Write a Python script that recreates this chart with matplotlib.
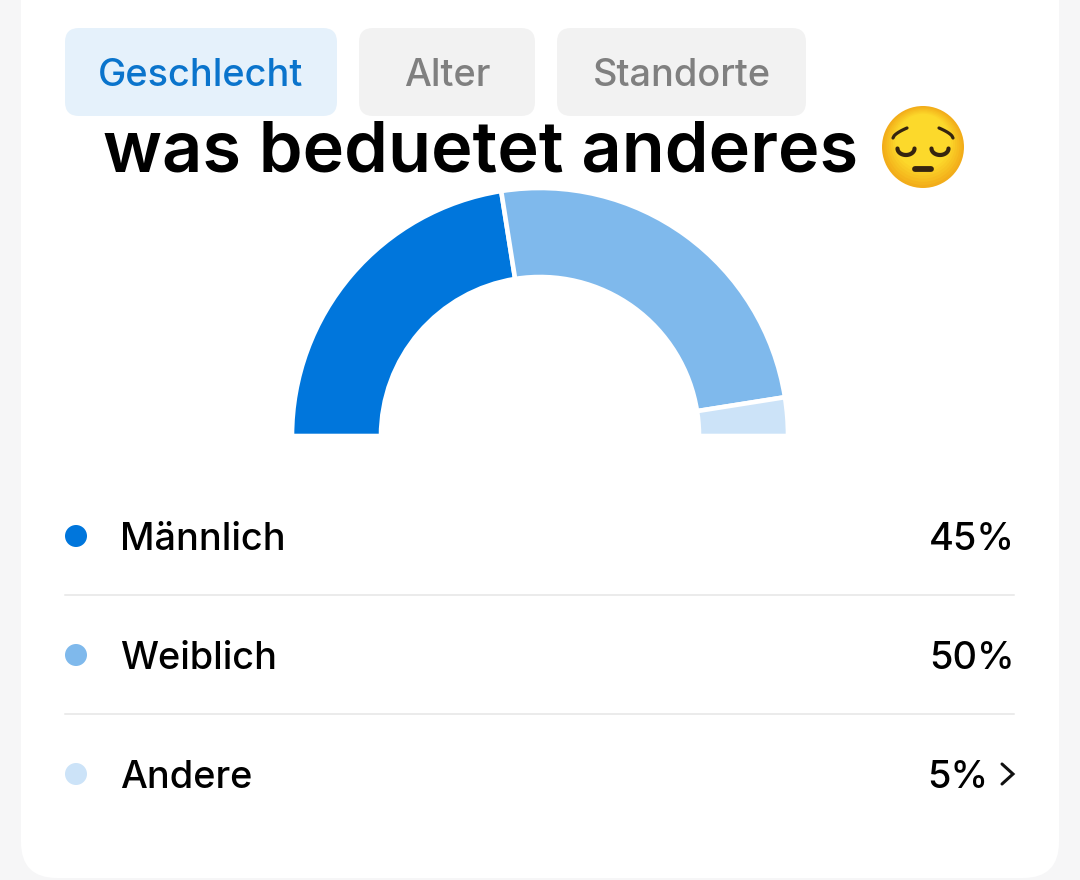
import matplotlib
matplotlib.use("Agg")
import matplotlib.pyplot as plt
from matplotlib.patches import FancyBboxPatch, Circle
import numpy as np

categories = ["Männlich", "Weiblich", "Andere"]
shares = [45, 50, 5]
colors = ["#0076DC", "#7FB9EC", "#CCE3F8"]
tabs = ["Geschlecht", "Alter", "Standorte"]
title = "was beduetet anderes"

W, H = 1080, 880
plt.rcParams["font.family"] = ["Inter", "Roboto", "DejaVu Sans"]
fig = plt.figure(figsize=(W / 100, H / 100), dpi=100, facecolor="#F6F6F7")
ax = fig.add_axes([0, 0, 1, 1])
ax.set_xlim(0, W)
ax.set_ylim(H, 0)
ax.axis("off")

# card
ax.add_patch(FancyBboxPatch((21 + 36, -100 + 36), 1038 - 72, 978 - 72,
                            boxstyle="round,pad=36,rounding_size=36",
                            fc="white", ec="none", zorder=1))

# tabs
tab_spans = [(65, 337), (359, 535), (557, 806)]
tab_fc = ["#E5F1FB", "#F2F2F2", "#F2F2F2"]
tab_tc = ["#0A74CC", "#808080", "#808080"]
for name, (a, b), fc, tc in zip(tabs, tab_spans, tab_fc, tab_tc):
    r = 14
    ax.add_patch(FancyBboxPatch((a + r, 28 + r), b - a - 2 * r, 88 - 2 * r,
                                boxstyle=f"round,pad={r},rounding_size={r}",
                                fc=fc, ec="none", zorder=2))
    ax.text((a + b) / 2, 72, name, color=tc, fontsize=27.3, fontweight="medium",
            ha="center", va="center_baseline", zorder=3)

# overlaid caption
ax.text(103, 172, title, color="black", fontsize=50.6, fontweight="semibold",
        ha="left", va="baseline", zorder=5)

# emoji drawn as shapes
ex, ey, er = 923, 147, 41
edge, core = np.array([0.95, 0.68, 0.10]), np.array([0.99, 0.85, 0.17])
for i, f in enumerate(np.linspace(0, 1, 12)):
    ax.add_patch(Circle((ex, ey - 10 * f), er - 24 * f,
                        fc=tuple(edge + (core - edge) * min(1, f * 1.8)),
                        ec="none", zorder=5))
feat = "#35240F"
t = np.linspace(0, np.pi, 30)
for s in (-1, 1):
    ax.plot(ex + s * 17 + 8.5 * np.cos(t), ey + 1.5 + 6.5 * np.sin(t), color=feat, lw=3.0,
            solid_capstyle="round", zorder=6)
    u = np.linspace(0, np.pi / 2, 20)
    ax.plot(ex + s * (30 - 14 * np.sin(u)), ey - 9 - 10 * np.sin(u) ** 0.6,
            color=feat, lw=2.3, solid_capstyle="round", zorder=6)
ax.plot([ex - 8, ex + 8], [ey + 22, ey + 22], color=feat, lw=4.2,
        solid_capstyle="round", zorder=6)

# half donut: the pie's lower half is a hidden wedge equal to the total
cx, cy, R = 540, 436, 248
pie_ax = fig.add_axes([(cx - R) / W, 1 - (cy + R) / H, 2 * R / W, 2 * R / H], zorder=3)
wedges, _ = pie_ax.pie(shares + [sum(shares)], colors=colors + ["none"], startangle=180,
                       counterclock=False, radius=1,
                       wedgeprops=dict(width=89 / R, edgecolor="white", linewidth=3.3))
wedges[-1].set_visible(False)
pie_ax.set_xlim(-1, 1)
pie_ax.set_ylim(-1, 1)
pie_ax.patch.set_alpha(0)

# rows
row_y = [536, 655, 774]
for name, v, c, y in zip(categories, shares, colors, row_y):
    ax.add_patch(Circle((76, y), 11, fc=c, ec="none", zorder=3))
    ax.text(120, y, name, fontsize=27.3, fontweight="medium", color="black", ha="left",
            va="center_baseline", zorder=3)
    right = 988 if name == "Andere" else 1015
    ax.text(right, y, f"{v}%", fontsize=27.3, fontweight="medium", color="black", ha="right",
            va="center_baseline", zorder=3)
for y in (595, 714):
    ax.plot([65, 1014], [y, y], color="#E6E6E6", lw=1.1, zorder=3)
ax.plot([1002, 1013, 1002], [764, 774, 784], color="#111111", lw=2.2,
        solid_capstyle="round", solid_joinstyle="miter", zorder=3)

fig.savefig("out.png", dpi=100, facecolor=fig.get_facecolor())
